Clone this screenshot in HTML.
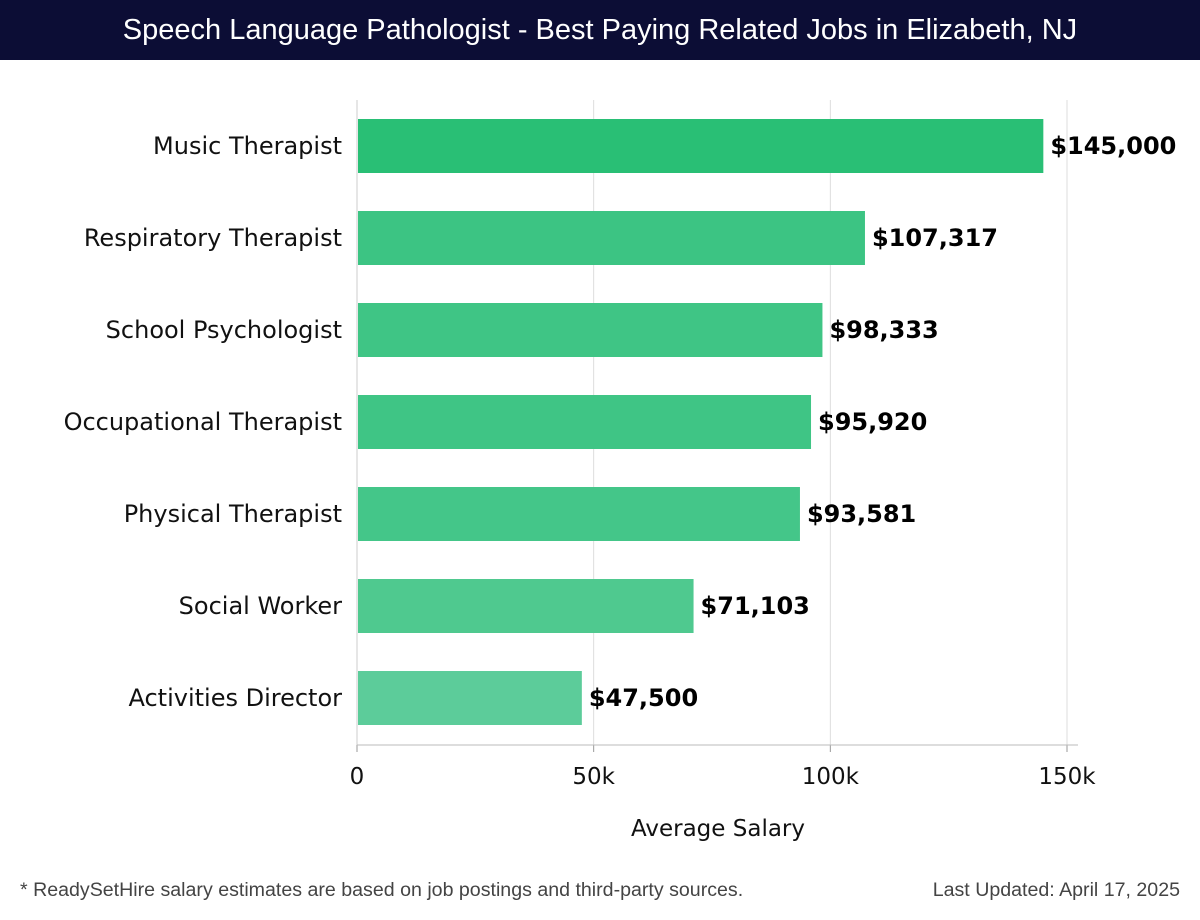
<!DOCTYPE html>
<html><head><meta charset="utf-8">
<style>
body{margin:0;width:1200px;height:920px;background:#fff;font-family:"DejaVu Sans","Liberation Sans",sans-serif;overflow:hidden}
#title{position:absolute;left:0;top:0;width:1200px;height:60px;background:#0c0d35;color:#fff;font-size:29px;line-height:60px;text-align:center;font-family:"Liberation Sans",sans-serif;white-space:nowrap}
#foot-l{position:absolute;left:20px;top:879px;font-size:19.6px;color:#444;font-family:"Liberation Sans",sans-serif;white-space:nowrap}
#foot-r{position:absolute;right:20px;top:879px;font-size:19.6px;color:#444;font-family:"Liberation Sans",sans-serif;white-space:nowrap}
</style></head><body>
<div id="title">Speech Language Pathologist - Best Paying Related Jobs in Elizabeth, NJ</div>
<svg id="chart" width="1200" height="920" style="position:absolute;left:0;top:0"></svg>
<div id="foot-l">* ReadySetHire salary estimates are based on job postings and third-party sources.</div>
<div id="foot-r">Last Updated: April 17, 2025</div>
<script>
const categories=["Music Therapist","Respiratory Therapist","School Psychologist","Occupational Therapist","Physical Therapist","Social Worker","Activities Director"];
const values=[145000,107317,98333,95920,93581,71103,47500];
const ticks=[0,50000,100000,150000];
const tickLabels=["0","50k","100k","150k"];
const colors=["#29bf75","#3cc483","#3fc585","#3fc585","#44c689","#4fc98f","#5ccc9a"];
const NS="http://www.w3.org/2000/svg";
const svg=document.getElementById('chart');
const x0=357,x1=1067,yTop=100,yBot=745,band=92,barH=54,firstC=146;
const xs=v=>x0+(v/150000)*(x1-x0);
const yc=i=>firstC+i*band;
function mk(t,a){const e=document.createElementNS(NS,t);for(const k in a)e.setAttribute(k,a[k]);svg.appendChild(e);return e;}
ticks.forEach((t,i)=>{
 if(i>0){const g=mk('line',{x1:xs(t),x2:xs(t),y1:yTop,y2:yBot,stroke:'#dddddd','stroke-width':1});
 
 }
 const tk=mk('line',{x1:xs(t),x2:xs(t),y1:yBot,y2:yBot+7,stroke:'#999'});
 
 
 const l=mk('text',{x:xs(t),y:784,'text-anchor':'middle','font-size':23,fill:'#111'});
 l.textContent=tickLabels[i];
 
 
});
const ya=mk('line',{x1:x0,x2:x0,y1:yTop,y2:yBot,stroke:'#ccc'});


const xa=mk('line',{x1:x0,x2:1078,y1:yBot,y2:yBot,stroke:'#bbb'});


categories.forEach((c,i)=>{
 const b=mk('rect',{x:x0+1,y:yc(i)-barH/2,width:xs(values[i])-x0-1,height:barH,fill:colors[i]});
 
 
 const l=mk('text',{x:342,y:yc(i)+8,'text-anchor':'end','font-size':24,fill:'#111'});
 l.textContent=c;
 
 
 const v=mk('text',{x:xs(values[i])+7,y:yc(i)+8,'font-size':24,'font-weight':'bold',fill:'#000'});
 v.textContent='$'+values[i].toLocaleString('en-US');
 
 
});
const at=mk('text',{x:718,y:836,'text-anchor':'middle','font-size':23,fill:'#111'});
at.textContent='Average Salary';


</script>
</body></html>
